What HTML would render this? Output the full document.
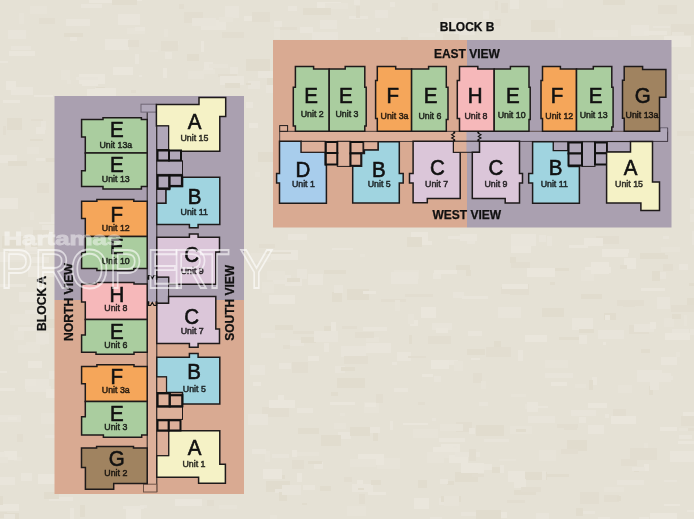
<!DOCTYPE html>
<html><head><meta charset="utf-8"><title>Floor plan</title>
<style>html,body{margin:0;padding:0;background:#e5e1d5;}body{width:694px;height:519px;overflow:hidden;font-family:"Liberation Sans",sans-serif;}svg{display:block;will-change:transform;filter:blur(0.3px);}</style>
</head><body>
<svg width="694" height="519" viewBox="0 0 694 519" shape-rendering="geometricPrecision"><rect x="0.0" y="0.0" width="694.0" height="519.0" fill="#e5e1d5" stroke="none" stroke-width="1.0" />
<g opacity="0.6"><rect x="218" y="74" width="19" height="3" fill="#e1dbce"/><rect x="51" y="214" width="9" height="8" fill="#ebe7de"/><rect x="657" y="297" width="13" height="12" fill="#ebe7de"/><rect x="285" y="278" width="17" height="8" fill="#ece8e0"/><rect x="376" y="28" width="4" height="4" fill="#ece8e0"/><rect x="364" y="402" width="15" height="11" fill="#e9e5db"/><rect x="394" y="270" width="25" height="9" fill="#e9e5db"/><rect x="419" y="33" width="16" height="4" fill="#e9e5db"/><rect x="18" y="345" width="22" height="8" fill="#e9e5db"/><rect x="340" y="413" width="5" height="3" fill="#e9e5db"/><rect x="324" y="343" width="5" height="9" fill="#ece8e0"/><rect x="397" y="352" width="14" height="9" fill="#ece8e0"/><rect x="270" y="475" width="15" height="4" fill="#dfd9cb"/><rect x="377" y="458" width="23" height="11" fill="#e9e5db"/><rect x="487" y="512" width="20" height="6" fill="#eeeae2"/><rect x="96" y="87" width="9" height="4" fill="#dfd9cb"/><rect x="188" y="71" width="16" height="8" fill="#e9e5db"/><rect x="661" y="357" width="16" height="8" fill="#ece8e0"/><rect x="511" y="234" width="25" height="12" fill="#ece8e0"/><rect x="437" y="28" width="5" height="4" fill="#eeeae2"/><rect x="368" y="492" width="18" height="3" fill="#eeeae2"/><rect x="246" y="59" width="24" height="12" fill="#dfd9cb"/><rect x="511" y="246" width="20" height="7" fill="#eeeae2"/><rect x="659" y="272" width="7" height="7" fill="#ebe7de"/><rect x="585" y="267" width="26" height="6" fill="#eeeae2"/><rect x="365" y="403" width="11" height="4" fill="#eeeae2"/><rect x="557" y="424" width="21" height="4" fill="#e1dbce"/><rect x="337" y="378" width="28" height="10" fill="#dfd9cb"/><rect x="650" y="513" width="27" height="6" fill="#eeeae2"/><rect x="684" y="315" width="3" height="11" fill="#e9e5db"/><rect x="455" y="472" width="23" height="10" fill="#dfd9cb"/><rect x="656" y="373" width="15" height="9" fill="#ebe7de"/><rect x="79" y="74" width="26" height="10" fill="#eeeae2"/><rect x="421" y="307" width="15" height="11" fill="#eeeae2"/><rect x="0" y="504" width="19" height="7" fill="#eeeae2"/><rect x="295" y="452" width="24" height="4" fill="#e9e5db"/><rect x="373" y="432" width="5" height="9" fill="#dfd9cb"/><rect x="456" y="422" width="16" height="10" fill="#e1dbce"/><rect x="82" y="75" width="16" height="11" fill="#eeeae2"/><rect x="418" y="402" width="7" height="3" fill="#e1dbce"/><rect x="501" y="287" width="11" height="7" fill="#e1dbce"/><rect x="330" y="402" width="25" height="3" fill="#eeeae2"/><rect x="347" y="289" width="22" height="11" fill="#dfd9cb"/><rect x="219" y="505" width="18" height="4" fill="#e9e5db"/><rect x="308" y="274" width="15" height="11" fill="#ece8e0"/><rect x="358" y="454" width="26" height="11" fill="#eeeae2"/><rect x="41" y="121" width="5" height="9" fill="#ebe7de"/><rect x="494" y="341" width="7" height="11" fill="#dfd9cb"/><rect x="270" y="250" width="28" height="10" fill="#eeeae2"/><rect x="487" y="516" width="13" height="6" fill="#e9e5db"/><rect x="4" y="285" width="14" height="2" fill="#e9e5db"/><rect x="567" y="440" width="20" height="11" fill="#dfd9cb"/><rect x="392" y="362" width="5" height="3" fill="#ece8e0"/><rect x="179" y="4" width="5" height="5" fill="#e1dbce"/><rect x="593" y="30" width="25" height="7" fill="#e9e5db"/><rect x="690" y="214" width="26" height="8" fill="#ebe7de"/><rect x="67" y="80" width="4" height="4" fill="#e9e5db"/><rect x="433" y="273" width="8" height="6" fill="#ece8e0"/><rect x="3" y="126" width="3" height="9" fill="#e1dbce"/><rect x="679" y="264" width="9" height="6" fill="#ece8e0"/><rect x="338" y="432" width="13" height="7" fill="#ece8e0"/><rect x="687" y="510" width="24" height="2" fill="#ece8e0"/><rect x="105" y="39" width="24" height="11" fill="#ece8e0"/><rect x="674" y="309" width="20" height="2" fill="#eeeae2"/><rect x="175" y="499" width="27" height="7" fill="#eeeae2"/><rect x="14" y="457" width="8" height="4" fill="#e9e5db"/><rect x="259" y="244" width="16" height="4" fill="#e1dbce"/><rect x="49" y="497" width="24" height="4" fill="#ece8e0"/><rect x="542" y="308" width="22" height="9" fill="#dfd9cb"/><rect x="443" y="18" width="24" height="11" fill="#ece8e0"/><rect x="292" y="362" width="16" height="11" fill="#e1dbce"/><rect x="390" y="421" width="3" height="9" fill="#ece8e0"/><rect x="471" y="358" width="9" height="2" fill="#eeeae2"/><rect x="439" y="498" width="12" height="7" fill="#ebe7de"/><rect x="432" y="323" width="20" height="7" fill="#ebe7de"/><rect x="312" y="32" width="26" height="11" fill="#ebe7de"/><rect x="454" y="30" width="21" height="5" fill="#ebe7de"/><rect x="448" y="236" width="24" height="3" fill="#ece8e0"/><rect x="192" y="19" width="19" height="4" fill="#e1dbce"/><rect x="390" y="2" width="5" height="5" fill="#ece8e0"/><rect x="335" y="366" width="10" height="7" fill="#ebe7de"/><rect x="689" y="283" width="11" height="3" fill="#dfd9cb"/><rect x="2" y="236" width="23" height="12" fill="#dfd9cb"/><rect x="690" y="198" width="26" height="11" fill="#ebe7de"/><rect x="359" y="494" width="6" height="10" fill="#e1dbce"/><rect x="187" y="54" width="12" height="7" fill="#dfd9cb"/><rect x="267" y="78" width="27" height="9" fill="#dfd9cb"/><rect x="203" y="69" width="12" height="5" fill="#e9e5db"/><rect x="-9" y="388" width="24" height="3" fill="#eeeae2"/><rect x="492" y="467" width="10" height="6" fill="#dfd9cb"/><rect x="265" y="451" width="5" height="11" fill="#e9e5db"/><rect x="26" y="342" width="19" height="3" fill="#e9e5db"/><rect x="534" y="406" width="14" height="2" fill="#ece8e0"/><rect x="272" y="454" width="17" height="4" fill="#ebe7de"/><rect x="25" y="379" width="14" height="10" fill="#ece8e0"/><rect x="602" y="249" width="26" height="8" fill="#eeeae2"/><rect x="677" y="131" width="19" height="5" fill="#e1dbce"/><rect x="443" y="34" width="16" height="10" fill="#e1dbce"/><rect x="692" y="231" width="6" height="4" fill="#ebe7de"/><rect x="4" y="451" width="13" height="9" fill="#eeeae2"/><rect x="255" y="172" width="5" height="5" fill="#e9e5db"/><rect x="433" y="447" width="8" height="5" fill="#eeeae2"/><rect x="261" y="333" width="14" height="5" fill="#ebe7de"/><rect x="528" y="416" width="27" height="7" fill="#ebe7de"/><rect x="266" y="481" width="24" height="11" fill="#dfd9cb"/><rect x="165" y="52" width="7" height="7" fill="#ece8e0"/><rect x="484" y="439" width="25" height="3" fill="#ebe7de"/><rect x="-9" y="61" width="17" height="2" fill="#ece8e0"/><rect x="204" y="62" width="9" height="8" fill="#ece8e0"/><rect x="547" y="-4" width="16" height="12" fill="#e9e5db"/><rect x="665" y="333" width="25" height="7" fill="#eeeae2"/><rect x="375" y="10" width="13" height="8" fill="#ebe7de"/><rect x="5" y="256" width="20" height="6" fill="#e9e5db"/><rect x="251" y="253" width="20" height="9" fill="#e9e5db"/><rect x="551" y="382" width="16" height="4" fill="#eeeae2"/><rect x="660" y="255" width="8" height="4" fill="#dfd9cb"/><rect x="631" y="25" width="18" height="11" fill="#ebe7de"/><rect x="140" y="505" width="7" height="3" fill="#ebe7de"/><rect x="70" y="37" width="7" height="4" fill="#ece8e0"/><rect x="649" y="386" width="4" height="9" fill="#dfd9cb"/><rect x="581" y="511" width="14" height="3" fill="#ebe7de"/><rect x="25" y="243" width="12" height="11" fill="#eeeae2"/><rect x="324" y="326" width="9" height="8" fill="#dfd9cb"/><rect x="19" y="13" width="5" height="11" fill="#e9e5db"/><rect x="127" y="28" width="18" height="6" fill="#e9e5db"/><rect x="664" y="318" width="10" height="9" fill="#e9e5db"/><rect x="498" y="307" width="23" height="11" fill="#ebe7de"/><rect x="7" y="118" width="15" height="12" fill="#dfd9cb"/><rect x="546" y="474" width="23" height="3" fill="#dfd9cb"/><rect x="510" y="426" width="22" height="8" fill="#e9e5db"/><rect x="596" y="236" width="23" height="8" fill="#e1dbce"/><rect x="164" y="29" width="4" height="8" fill="#e9e5db"/><rect x="64" y="33" width="19" height="4" fill="#dfd9cb"/><rect x="341" y="367" width="14" height="4" fill="#dfd9cb"/><rect x="314" y="462" width="9" height="7" fill="#ece8e0"/><rect x="525" y="404" width="10" height="5" fill="#e9e5db"/><rect x="253" y="382" width="8" height="4" fill="#eeeae2"/><rect x="36" y="127" width="9" height="7" fill="#ece8e0"/><rect x="559" y="337" width="28" height="3" fill="#dfd9cb"/><rect x="25" y="310" width="24" height="4" fill="#ebe7de"/><rect x="252" y="449" width="14" height="5" fill="#ece8e0"/><rect x="410" y="320" width="8" height="6" fill="#eeeae2"/><rect x="21" y="519" width="4" height="9" fill="#eeeae2"/><rect x="564" y="424" width="13" height="6" fill="#e1dbce"/><rect x="550" y="282" width="5" height="3" fill="#dfd9cb"/><rect x="366" y="337" width="13" height="5" fill="#e9e5db"/><rect x="26" y="386" width="25" height="6" fill="#ebe7de"/><rect x="598" y="517" width="12" height="4" fill="#ece8e0"/><rect x="275" y="489" width="14" height="4" fill="#ebe7de"/><rect x="612" y="237" width="7" height="2" fill="#e1dbce"/><rect x="269" y="295" width="26" height="9" fill="#eeeae2"/><rect x="357" y="480" width="6" height="7" fill="#eeeae2"/><rect x="21" y="473" width="11" height="8" fill="#ece8e0"/><rect x="263" y="469" width="19" height="10" fill="#eeeae2"/><rect x="441" y="444" width="19" height="8" fill="#eeeae2"/><rect x="500" y="465" width="4" height="8" fill="#ece8e0"/><rect x="17" y="434" width="6" height="8" fill="#e1dbce"/><rect x="588" y="403" width="19" height="5" fill="#eeeae2"/><rect x="290" y="340" width="14" height="6" fill="#ebe7de"/><rect x="-8" y="512" width="15" height="6" fill="#e1dbce"/><rect x="539" y="235" width="7" height="7" fill="#ebe7de"/><rect x="37" y="183" width="12" height="10" fill="#e1dbce"/><rect x="349" y="16" width="19" height="3" fill="#ece8e0"/><rect x="46" y="389" width="25" height="9" fill="#eeeae2"/><rect x="8" y="30" width="18" height="9" fill="#ebe7de"/><rect x="126" y="509" width="15" height="12" fill="#eeeae2"/><rect x="473" y="373" width="9" height="10" fill="#e1dbce"/><rect x="344" y="477" width="8" height="5" fill="#e1dbce"/><rect x="531" y="20" width="24" height="12" fill="#dfd9cb"/><rect x="381" y="299" width="25" height="3" fill="#e1dbce"/><rect x="687" y="298" width="12" height="10" fill="#dfd9cb"/><rect x="670" y="451" width="26" height="11" fill="#ece8e0"/><rect x="-9" y="13" width="7" height="8" fill="#dfd9cb"/><rect x="24" y="251" width="18" height="2" fill="#ebe7de"/><rect x="-8" y="181" width="6" height="6" fill="#eeeae2"/><rect x="-0" y="415" width="21" height="7" fill="#ebe7de"/><rect x="439" y="452" width="23" height="6" fill="#e9e5db"/><rect x="671" y="24" width="24" height="11" fill="#e1dbce"/><rect x="650" y="379" width="9" height="11" fill="#ebe7de"/><rect x="33" y="8" width="8" height="4" fill="#ebe7de"/><rect x="-1" y="284" width="27" height="3" fill="#eeeae2"/><rect x="355" y="332" width="19" height="6" fill="#e1dbce"/><rect x="201" y="20" width="25" height="10" fill="#ece8e0"/><rect x="297" y="473" width="5" height="9" fill="#eeeae2"/><rect x="149" y="50" width="9" height="2" fill="#e9e5db"/><rect x="617" y="480" width="27" height="5" fill="#ebe7de"/><rect x="297" y="408" width="16" height="5" fill="#ece8e0"/><rect x="644" y="464" width="5" height="7" fill="#eeeae2"/><rect x="514" y="490" width="22" height="5" fill="#dfd9cb"/><rect x="629" y="325" width="20" height="9" fill="#e1dbce"/><rect x="321" y="435" width="20" height="11" fill="#dfd9cb"/><rect x="613" y="409" width="13" height="8" fill="#e1dbce"/><rect x="9" y="51" width="26" height="5" fill="#eeeae2"/><rect x="483" y="11" width="6" height="8" fill="#ebe7de"/><rect x="481" y="381" width="5" height="8" fill="#e9e5db"/><rect x="366" y="343" width="25" height="10" fill="#ece8e0"/><rect x="135" y="54" width="4" height="10" fill="#ece8e0"/><rect x="52" y="389" width="19" height="7" fill="#eeeae2"/><rect x="288" y="6" width="9" height="5" fill="#ece8e0"/><rect x="525" y="472" width="22" height="8" fill="#dfd9cb"/><rect x="589" y="319" width="4" height="6" fill="#dfd9cb"/><rect x="320" y="20" width="17" height="9" fill="#ebe7de"/><rect x="297" y="269" width="10" height="10" fill="#ebe7de"/><rect x="-7" y="252" width="15" height="10" fill="#eeeae2"/><rect x="671" y="305" width="27" height="7" fill="#e1dbce"/><rect x="545" y="360" width="23" height="8" fill="#e9e5db"/><rect x="618" y="385" width="14" height="8" fill="#e9e5db"/><rect x="624" y="258" width="12" height="11" fill="#eeeae2"/><rect x="408" y="356" width="18" height="2" fill="#e1dbce"/><rect x="220" y="76" width="24" height="9" fill="#ece8e0"/><rect x="442" y="360" width="16" height="5" fill="#ece8e0"/><rect x="572" y="318" width="21" height="12" fill="#ece8e0"/><rect x="123" y="506" width="21" height="3" fill="#ece8e0"/><rect x="683" y="412" width="21" height="6" fill="#eeeae2"/><rect x="317" y="2" width="24" height="6" fill="#eeeae2"/><rect x="342" y="326" width="15" height="3" fill="#e1dbce"/><rect x="510" y="-2" width="9" height="11" fill="#ece8e0"/><rect x="394" y="388" width="14" height="4" fill="#ece8e0"/><rect x="449" y="455" width="19" height="8" fill="#eeeae2"/><rect x="468" y="331" width="14" height="5" fill="#ece8e0"/><rect x="483" y="464" width="9" height="6" fill="#ece8e0"/><rect x="288" y="234" width="19" height="6" fill="#ece8e0"/><rect x="455" y="452" width="25" height="5" fill="#ebe7de"/><rect x="264" y="252" width="27" height="2" fill="#e1dbce"/><rect x="325" y="3" width="23" height="6" fill="#e9e5db"/><rect x="279" y="492" width="8" height="9" fill="#dfd9cb"/><rect x="352" y="484" width="21" height="8" fill="#ece8e0"/><rect x="30" y="139" width="13" height="2" fill="#dfd9cb"/><rect x="634" y="324" width="20" height="8" fill="#ebe7de"/><rect x="652" y="271" width="8" height="10" fill="#dfd9cb"/><rect x="644" y="31" width="23" height="4" fill="#ece8e0"/><rect x="440" y="424" width="23" height="7" fill="#e9e5db"/><rect x="525" y="335" width="22" height="7" fill="#eeeae2"/><rect x="121" y="-4" width="21" height="5" fill="#eeeae2"/><rect x="331" y="322" width="5" height="11" fill="#eeeae2"/><rect x="644" y="443" width="4" height="10" fill="#e9e5db"/><rect x="575" y="327" width="3" height="2" fill="#ebe7de"/><rect x="61" y="70" width="9" height="10" fill="#e9e5db"/><rect x="273" y="275" width="18" height="9" fill="#ebe7de"/><rect x="461" y="463" width="23" height="10" fill="#eeeae2"/><rect x="45" y="435" width="20" height="3" fill="#ebe7de"/><rect x="31" y="240" width="7" height="7" fill="#dfd9cb"/><rect x="694" y="349" width="8" height="6" fill="#ece8e0"/><rect x="10" y="314" width="20" height="11" fill="#e9e5db"/><rect x="331" y="392" width="7" height="4" fill="#dfd9cb"/><rect x="324" y="270" width="22" height="4" fill="#dfd9cb"/><rect x="27" y="147" width="12" height="7" fill="#e9e5db"/><rect x="347" y="506" width="19" height="10" fill="#e9e5db"/><rect x="80" y="505" width="5" height="12" fill="#dfd9cb"/><rect x="499" y="459" width="17" height="2" fill="#e9e5db"/><rect x="66" y="19" width="24" height="7" fill="#ece8e0"/><rect x="32" y="257" width="17" height="6" fill="#eeeae2"/><rect x="431" y="360" width="18" height="9" fill="#eeeae2"/><rect x="18" y="327" width="19" height="4" fill="#ece8e0"/><rect x="118" y="14" width="22" height="11" fill="#ece8e0"/><rect x="-1" y="452" width="6" height="5" fill="#ece8e0"/><rect x="293" y="331" width="26" height="3" fill="#e1dbce"/><rect x="358" y="427" width="22" height="6" fill="#ece8e0"/><rect x="-0" y="198" width="18" height="11" fill="#eeeae2"/><rect x="139" y="75" width="3" height="2" fill="#ece8e0"/><rect x="461" y="512" width="24" height="4" fill="#ebe7de"/><rect x="81" y="4" width="21" height="4" fill="#ece8e0"/><rect x="514" y="479" width="12" height="9" fill="#ece8e0"/><rect x="592" y="377" width="5" height="8" fill="#ece8e0"/><rect x="341" y="346" width="25" height="11" fill="#ebe7de"/><rect x="495" y="1" width="3" height="9" fill="#e1dbce"/><rect x="46" y="158" width="21" height="4" fill="#dfd9cb"/><rect x="658" y="376" width="15" height="4" fill="#ebe7de"/><rect x="262" y="407" width="27" height="10" fill="#e1dbce"/><rect x="428" y="336" width="23" height="8" fill="#e1dbce"/><rect x="501" y="3" width="7" height="10" fill="#e1dbce"/><rect x="292" y="460" width="12" height="9" fill="#e1dbce"/><rect x="308" y="356" width="11" height="5" fill="#eeeae2"/><rect x="403" y="423" width="25" height="2" fill="#eeeae2"/><rect x="561" y="449" width="17" height="5" fill="#e1dbce"/><rect x="472" y="474" width="12" height="3" fill="#e1dbce"/><rect x="545" y="373" width="28" height="5" fill="#ebe7de"/><rect x="467" y="239" width="8" height="5" fill="#ebe7de"/><rect x="547" y="236" width="5" height="10" fill="#ebe7de"/><rect x="621" y="459" width="16" height="7" fill="#e1dbce"/><rect x="640" y="253" width="25" height="6" fill="#dfd9cb"/><rect x="356" y="6" width="4" height="12" fill="#e1dbce"/><rect x="332" y="292" width="10" height="10" fill="#dfd9cb"/><rect x="408" y="314" width="6" height="10" fill="#e9e5db"/><rect x="131" y="90" width="5" height="3" fill="#e1dbce"/><rect x="250" y="365" width="15" height="10" fill="#ebe7de"/><rect x="598" y="330" width="26" height="9" fill="#ebe7de"/><rect x="441" y="496" width="20" height="6" fill="#dfd9cb"/><rect x="653" y="26" width="17" height="2" fill="#ebe7de"/><rect x="511" y="394" width="15" height="3" fill="#e9e5db"/><rect x="521" y="487" width="20" height="5" fill="#e1dbce"/><rect x="301" y="337" width="15" height="6" fill="#dfd9cb"/><rect x="-1" y="371" width="8" height="2" fill="#eeeae2"/><rect x="45" y="319" width="12" height="9" fill="#dfd9cb"/><rect x="664" y="480" width="13" height="2" fill="#ebe7de"/><rect x="569" y="245" width="19" height="3" fill="#eeeae2"/><rect x="308" y="461" width="14" height="3" fill="#dfd9cb"/><rect x="225" y="83" width="15" height="5" fill="#dfd9cb"/><rect x="70" y="508" width="4" height="11" fill="#ece8e0"/><rect x="641" y="288" width="24" height="3" fill="#eeeae2"/><rect x="576" y="508" width="7" height="8" fill="#dfd9cb"/><rect x="89" y="-4" width="24" height="7" fill="#eeeae2"/><rect x="244" y="16" width="13" height="5" fill="#eeeae2"/><rect x="87" y="89" width="22" height="9" fill="#eeeae2"/><rect x="413" y="429" width="25" height="9" fill="#e9e5db"/><rect x="113" y="67" width="20" height="8" fill="#eeeae2"/><rect x="36" y="379" width="13" height="9" fill="#ebe7de"/><rect x="278" y="395" width="6" height="9" fill="#eeeae2"/><rect x="248" y="81" width="12" height="8" fill="#ebe7de"/><rect x="672" y="32" width="12" height="4" fill="#e9e5db"/><rect x="539" y="450" width="17" height="11" fill="#e9e5db"/><rect x="604" y="495" width="15" height="7" fill="#e1dbce"/><rect x="161" y="41" width="18" height="4" fill="#e9e5db"/><rect x="11" y="46" width="20" height="4" fill="#ebe7de"/><rect x="579" y="329" width="15" height="4" fill="#dfd9cb"/><rect x="495" y="19" width="6" height="7" fill="#e1dbce"/><rect x="658" y="5" width="19" height="9" fill="#e1dbce"/><rect x="581" y="270" width="13" height="11" fill="#e9e5db"/><rect x="681" y="416" width="26" height="10" fill="#e1dbce"/><rect x="28" y="266" width="27" height="11" fill="#eeeae2"/><rect x="603" y="342" width="3" height="3" fill="#eeeae2"/><rect x="39" y="222" width="16" height="2" fill="#eeeae2"/><rect x="692" y="233" width="4" height="12" fill="#ebe7de"/><rect x="14" y="331" width="10" height="9" fill="#e9e5db"/><rect x="432" y="418" width="4" height="3" fill="#ebe7de"/><rect x="663" y="264" width="10" height="7" fill="#e1dbce"/><rect x="350" y="459" width="26" height="8" fill="#e9e5db"/><rect x="161" y="41" width="17" height="10" fill="#e1dbce"/><rect x="262" y="282" width="12" height="11" fill="#e9e5db"/><rect x="421" y="241" width="11" height="4" fill="#eeeae2"/><rect x="30" y="6" width="17" height="8" fill="#e9e5db"/><rect x="300" y="27" width="13" height="6" fill="#ece8e0"/><rect x="527" y="268" width="28" height="9" fill="#eeeae2"/><rect x="283" y="345" width="7" height="4" fill="#e1dbce"/><rect x="588" y="425" width="16" height="9" fill="#ece8e0"/><rect x="639" y="517" width="10" height="8" fill="#ece8e0"/><rect x="603" y="-3" width="22" height="8" fill="#dfd9cb"/><rect x="270" y="515" width="7" height="10" fill="#e9e5db"/><rect x="604" y="313" width="12" height="7" fill="#dfd9cb"/><rect x="409" y="335" width="3" height="9" fill="#dfd9cb"/><rect x="258" y="152" width="16" height="10" fill="#dfd9cb"/><rect x="395" y="300" width="5" height="11" fill="#e9e5db"/><rect x="672" y="314" width="9" height="5" fill="#dfd9cb"/><rect x="617" y="496" width="4" height="5" fill="#dfd9cb"/><rect x="298" y="428" width="21" height="6" fill="#dfd9cb"/><rect x="466" y="270" width="5" height="6" fill="#dfd9cb"/><rect x="447" y="481" width="7" height="4" fill="#dfd9cb"/><rect x="430" y="517" width="12" height="7" fill="#ebe7de"/><rect x="679" y="428" width="16" height="3" fill="#e9e5db"/><rect x="476" y="425" width="28" height="11" fill="#dfd9cb"/><rect x="434" y="270" width="23" height="4" fill="#eeeae2"/><rect x="280" y="27" width="17" height="3" fill="#e1dbce"/><rect x="690" y="329" width="4" height="6" fill="#ebe7de"/><rect x="-7" y="155" width="24" height="8" fill="#ece8e0"/><rect x="11" y="87" width="22" height="8" fill="#ece8e0"/><rect x="620" y="265" width="7" height="4" fill="#e1dbce"/><rect x="76" y="77" width="22" height="3" fill="#ebe7de"/><rect x="44" y="492" width="15" height="7" fill="#dfd9cb"/><rect x="558" y="28" width="3" height="10" fill="#e9e5db"/><rect x="184" y="12" width="19" height="11" fill="#e1dbce"/><rect x="34" y="95" width="19" height="2" fill="#eeeae2"/><rect x="617" y="300" width="27" height="6" fill="#e1dbce"/><rect x="112" y="-2" width="25" height="7" fill="#dfd9cb"/><rect x="414" y="498" width="15" height="11" fill="#eeeae2"/><rect x="467" y="349" width="18" height="6" fill="#dfd9cb"/><rect x="606" y="249" width="23" height="4" fill="#eeeae2"/><rect x="-5" y="457" width="13" height="6" fill="#e9e5db"/><rect x="274" y="29" width="6" height="10" fill="#e9e5db"/><rect x="8" y="417" width="9" height="3" fill="#eeeae2"/><rect x="579" y="417" width="7" height="6" fill="#ece8e0"/><rect x="275" y="325" width="18" height="5" fill="#dfd9cb"/><rect x="623" y="303" width="12" height="4" fill="#e1dbce"/><rect x="518" y="350" width="5" height="11" fill="#ece8e0"/><rect x="453" y="292" width="11" height="6" fill="#ebe7de"/><rect x="479" y="402" width="9" height="4" fill="#ebe7de"/><rect x="38" y="474" width="23" height="10" fill="#eeeae2"/><rect x="36" y="158" width="9" height="3" fill="#ece8e0"/><rect x="584" y="238" width="19" height="8" fill="#eeeae2"/><rect x="248" y="414" width="20" height="11" fill="#ebe7de"/><rect x="454" y="361" width="9" height="10" fill="#e9e5db"/><rect x="510" y="284" width="19" height="11" fill="#e1dbce"/><rect x="581" y="294" width="21" height="5" fill="#dfd9cb"/><rect x="462" y="296" width="26" height="3" fill="#ece8e0"/><rect x="192" y="18" width="24" height="8" fill="#ebe7de"/><rect x="676" y="352" width="4" height="5" fill="#e9e5db"/><rect x="516" y="429" width="10" height="3" fill="#dfd9cb"/><rect x="344" y="356" width="24" height="8" fill="#e1dbce"/><rect x="28" y="361" width="14" height="7" fill="#eeeae2"/><rect x="660" y="427" width="17" height="4" fill="#eeeae2"/><rect x="672" y="329" width="17" height="4" fill="#ebe7de"/><rect x="332" y="248" width="21" height="2" fill="#ece8e0"/><rect x="303" y="485" width="12" height="5" fill="#ece8e0"/><rect x="376" y="394" width="7" height="9" fill="#e1dbce"/><rect x="679" y="435" width="13" height="4" fill="#ece8e0"/><rect x="135" y="27" width="10" height="4" fill="#ece8e0"/><rect x="207" y="500" width="7" height="6" fill="#e1dbce"/><rect x="246" y="83" width="5" height="2" fill="#dfd9cb"/><rect x="49" y="371" width="28" height="8" fill="#ebe7de"/><rect x="444" y="496" width="15" height="10" fill="#e9e5db"/><rect x="-4" y="477" width="19" height="8" fill="#ece8e0"/><rect x="163" y="68" width="4" height="10" fill="#eeeae2"/><rect x="439" y="438" width="26" height="4" fill="#ece8e0"/><rect x="575" y="384" width="11" height="4" fill="#e9e5db"/><rect x="19" y="292" width="19" height="10" fill="#ece8e0"/><rect x="274" y="21" width="8" height="6" fill="#ece8e0"/><rect x="302" y="503" width="5" height="2" fill="#dfd9cb"/><rect x="252" y="12" width="18" height="10" fill="#e1dbce"/><rect x="456" y="265" width="14" height="5" fill="#dfd9cb"/><rect x="-4" y="496" width="7" height="9" fill="#dfd9cb"/><rect x="128" y="40" width="11" height="7" fill="#e1dbce"/><rect x="630" y="448" width="27" height="12" fill="#e1dbce"/><rect x="47" y="419" width="21" height="5" fill="#ece8e0"/><rect x="661" y="247" width="19" height="5" fill="#e9e5db"/><rect x="363" y="327" width="24" height="4" fill="#ece8e0"/><rect x="363" y="291" width="13" height="3" fill="#eeeae2"/><rect x="579" y="335" width="8" height="9" fill="#ece8e0"/><rect x="334" y="285" width="9" height="8" fill="#ebe7de"/><rect x="508" y="471" width="17" height="11" fill="#ece8e0"/><rect x="42" y="225" width="25" height="8" fill="#ece8e0"/><rect x="580" y="492" width="19" height="12" fill="#e1dbce"/><rect x="266" y="85" width="27" height="8" fill="#ebe7de"/><rect x="31" y="119" width="12" height="2" fill="#e1dbce"/><rect x="663" y="236" width="6" height="3" fill="#ebe7de"/><rect x="427" y="452" width="17" height="11" fill="#e9e5db"/><rect x="469" y="428" width="6" height="6" fill="#ece8e0"/><rect x="334" y="423" width="12" height="6" fill="#e9e5db"/><rect x="641" y="349" width="9" height="4" fill="#dfd9cb"/><rect x="5" y="513" width="14" height="10" fill="#dfd9cb"/><rect x="258" y="71" width="25" height="7" fill="#ece8e0"/><rect x="303" y="8" width="28" height="7" fill="#dfd9cb"/><rect x="605" y="414" width="4" height="4" fill="#ece8e0"/><rect x="605" y="315" width="5" height="5" fill="#eeeae2"/><rect x="209" y="64" width="19" height="4" fill="#e9e5db"/><rect x="320" y="486" width="11" height="5" fill="#dfd9cb"/><rect x="225" y="6" width="14" height="12" fill="#ebe7de"/><rect x="434" y="376" width="7" height="6" fill="#ebe7de"/><rect x="391" y="272" width="27" height="12" fill="#ebe7de"/><rect x="634" y="468" width="5" height="4" fill="#dfd9cb"/><rect x="436" y="328" width="12" height="5" fill="#eeeae2"/><rect x="604" y="487" width="20" height="5" fill="#e9e5db"/><rect x="511" y="262" width="19" height="6" fill="#e1dbce"/><rect x="486" y="347" width="25" height="10" fill="#e1dbce"/><rect x="249" y="123" width="9" height="5" fill="#eeeae2"/><rect x="269" y="400" width="26" height="8" fill="#eeeae2"/><rect x="502" y="284" width="26" height="5" fill="#eeeae2"/><rect x="401" y="37" width="7" height="8" fill="#dfd9cb"/><rect x="292" y="450" width="5" height="7" fill="#eeeae2"/><rect x="6" y="81" width="10" height="9" fill="#eeeae2"/><rect x="24" y="230" width="25" height="5" fill="#e1dbce"/><rect x="507" y="500" width="18" height="3" fill="#e1dbce"/><rect x="230" y="67" width="8" height="7" fill="#ebe7de"/><rect x="440" y="479" width="8" height="5" fill="#ece8e0"/><rect x="9" y="250" width="18" height="10" fill="#eeeae2"/><rect x="30" y="212" width="4" height="8" fill="#e9e5db"/><rect x="536" y="513" width="13" height="11" fill="#ebe7de"/><rect x="8" y="161" width="19" height="5" fill="#dfd9cb"/><rect x="422" y="374" width="11" height="3" fill="#eeeae2"/><rect x="469" y="449" width="7" height="12" fill="#e1dbce"/><rect x="527" y="402" width="11" height="10" fill="#ece8e0"/><rect x="358" y="488" width="6" height="2" fill="#dfd9cb"/><rect x="678" y="74" width="19" height="6" fill="#ebe7de"/><rect x="650" y="322" width="6" height="7" fill="#eeeae2"/><rect x="95" y="88" width="21" height="11" fill="#eeeae2"/><rect x="632" y="467" width="13" height="4" fill="#ebe7de"/><rect x="36" y="333" width="13" height="11" fill="#ebe7de"/><rect x="453" y="446" width="4" height="2" fill="#ece8e0"/><rect x="690" y="109" width="17" height="4" fill="#e9e5db"/><rect x="201" y="41" width="3" height="11" fill="#eeeae2"/><rect x="411" y="232" width="17" height="11" fill="#eeeae2"/><rect x="589" y="380" width="4" height="10" fill="#dfd9cb"/><rect x="690" y="151" width="4" height="3" fill="#ebe7de"/><rect x="519" y="238" width="13" height="6" fill="#ece8e0"/><rect x="637" y="370" width="25" height="12" fill="#ebe7de"/><rect x="432" y="3" width="6" height="8" fill="#e1dbce"/><rect x="4" y="514" width="11" height="11" fill="#ebe7de"/><rect x="664" y="504" width="16" height="2" fill="#eeeae2"/><rect x="510" y="257" width="6" height="6" fill="#dfd9cb"/><rect x="664" y="36" width="27" height="11" fill="#eeeae2"/><rect x="39" y="18" width="16" height="6" fill="#e1dbce"/><rect x="219" y="17" width="14" height="5" fill="#e9e5db"/><rect x="476" y="510" width="25" height="9" fill="#dfd9cb"/><rect x="287" y="278" width="13" height="4" fill="#dfd9cb"/><rect x="611" y="416" width="25" height="8" fill="#eeeae2"/><rect x="418" y="480" width="9" height="8" fill="#dfd9cb"/><rect x="688" y="428" width="20" height="3" fill="#e1dbce"/><rect x="542" y="471" width="4" height="9" fill="#e9e5db"/><rect x="460" y="234" width="17" height="7" fill="#ece8e0"/><rect x="591" y="262" width="18" height="12" fill="#eeeae2"/><rect x="571" y="410" width="25" height="6" fill="#ebe7de"/><rect x="267" y="271" width="18" height="9" fill="#e9e5db"/><rect x="41" y="413" width="20" height="11" fill="#e9e5db"/><rect x="405" y="294" width="28" height="3" fill="#e1dbce"/><rect x="246" y="102" width="7" height="6" fill="#ece8e0"/><rect x="314" y="331" width="24" height="11" fill="#ebe7de"/><rect x="279" y="363" width="12" height="6" fill="#ece8e0"/><rect x="555" y="268" width="14" height="3" fill="#dfd9cb"/><rect x="354" y="-2" width="6" height="7" fill="#ece8e0"/><rect x="3" y="100" width="17" height="3" fill="#eeeae2"/><rect x="360" y="254" width="5" height="3" fill="#e9e5db"/><rect x="21" y="227" width="12" height="9" fill="#e9e5db"/><rect x="678" y="441" width="18" height="3" fill="#eeeae2"/><rect x="222" y="32" width="22" height="6" fill="#e1dbce"/><rect x="282" y="485" width="19" height="10" fill="#ebe7de"/><rect x="407" y="237" width="15" height="10" fill="#dfd9cb"/><rect x="690" y="87" width="5" height="6" fill="#eeeae2"/><rect x="350" y="427" width="20" height="9" fill="#dfd9cb"/><rect x="371" y="480" width="10" height="5" fill="#dfd9cb"/></g>
<rect x="54.5" y="96.0" width="189.5" height="204.0" fill="#aaa0b0" stroke="none" stroke-width="1.0" />
<rect x="54.5" y="300.0" width="189.5" height="194.0" fill="#d9aa92" stroke="none" stroke-width="1.0" />
<rect x="273.0" y="40.0" width="194.0" height="187.5" fill="#d9aa92" stroke="none" stroke-width="1.0" />
<rect x="467.0" y="40.0" width="204.5" height="187.5" fill="#aaa0b0" stroke="none" stroke-width="1.0" />
<rect x="147.2" y="104.5" width="9.6" height="198.0" fill="#b0a7b9" stroke="none" stroke-width="1.0" />
<rect x="147.2" y="302.5" width="9.6" height="189.5" fill="#ddb09a" stroke="none" stroke-width="1.0" />
<line x1="147.2" y1="110" x2="147.2" y2="486" stroke="#1e1a1a" stroke-width="1"/>
<line x1="156.8" y1="104" x2="156.8" y2="492" stroke="#1e1a1a" stroke-width="1"/>
<rect x="141.0" y="104.2" width="15.4" height="7.9" fill="#b0a7b9" stroke="#6f6674" stroke-width="1" />
<rect x="143.5" y="484.2" width="13.3" height="7.8" fill="#ddb09a" stroke="#6f5548" stroke-width="1" />
<polygon points="81.6,119.5 103.0,119.5 103.0,117.8 141.4,117.8 141.4,119.5 147.2,119.5 147.2,153.0 85.3,153.0 85.3,137.0 81.6,137.0" fill="#aacd9f" stroke="#1e1a1a" stroke-width="1.5" stroke-linejoin="miter" />
<polygon points="85.3,153.0 147.2,153.0 147.2,186.5 141.4,186.5 141.4,188.9 103.0,188.9 103.0,186.5 81.6,186.5 81.6,170.7 85.3,170.7" fill="#aacd9f" stroke="#1e1a1a" stroke-width="1.5" stroke-linejoin="miter" />
<polygon points="81.6,201.3 96.9,201.3 96.9,199.5 133.8,199.5 133.8,201.3 147.2,201.3 147.2,236.4 85.3,236.4 85.3,218.6 81.6,218.6" fill="#f5a65a" stroke="#1e1a1a" stroke-width="1.5" stroke-linejoin="miter" />
<polygon points="85.3,236.4 147.2,236.4 147.2,268.5 133.8,268.5 133.8,270.6 96.9,270.6 96.9,268.5 81.6,268.5 81.6,252.4 85.3,252.4" fill="#aacd9f" stroke="#1e1a1a" stroke-width="1.5" stroke-linejoin="miter" />
<polygon points="81.6,284.0 96.0,284.0 96.0,282.5 134.0,282.5 134.0,284.0 147.2,284.0 147.2,319.4 85.3,319.4 85.3,302.0 81.6,302.0" fill="#f6b8ba" stroke="#1e1a1a" stroke-width="1.5" stroke-linejoin="miter" />
<polygon points="85.3,319.4 147.2,319.4 147.2,352.3 134.0,352.3 134.0,354.3 96.0,354.3 96.0,352.3 81.6,352.3 81.6,335.0 85.3,335.0" fill="#aacd9f" stroke="#1e1a1a" stroke-width="1.5" stroke-linejoin="miter" />
<polygon points="81.6,366.5 96.9,366.5 96.9,364.7 134.0,364.7 134.0,366.5 147.2,366.5 147.2,401.6 85.3,401.6 85.3,383.8 81.6,383.8" fill="#f5a65a" stroke="#1e1a1a" stroke-width="1.5" stroke-linejoin="miter" />
<polygon points="85.3,401.6 147.2,401.6 147.2,435.0 141.7,435.0 141.7,437.2 103.4,437.2 103.4,435.0 81.6,435.0 81.6,416.7 85.3,416.7" fill="#aacd9f" stroke="#1e1a1a" stroke-width="1.5" stroke-linejoin="miter" />
<polygon points="81.5,448.0 96.6,448.0 96.6,446.5 133.5,446.5 133.5,448.0 147.2,448.0 147.2,483.5 113.7,483.5 113.7,489.2 85.4,489.2 85.4,467.4 81.5,467.4" fill="#a08360" stroke="#1e1a1a" stroke-width="1.5" stroke-linejoin="miter" />
<polygon points="156.4,104.5 199.0,104.5 199.0,97.5 225.7,97.5 225.7,116.5 219.8,116.5 219.8,151.2 168.5,151.2 168.5,126.0 156.4,126.0" fill="#f5f2c6" stroke="#1e1a1a" stroke-width="1.5" stroke-linejoin="miter" />
<rect x="156.8" y="126.0" width="11.7" height="23.5" fill="#b0a7b9" stroke="#1e1a1a" stroke-width="1" />
<rect x="156.8" y="160.8" width="25.7" height="13.6" fill="#b0a7b9" stroke="#1e1a1a" stroke-width="1" />
<rect x="156.8" y="189.4" width="9.2" height="13.9" fill="#b0a7b9" stroke="#1e1a1a" stroke-width="1" />
<polygon points="182.5,177.3 219.8,177.3 219.8,224.5 198.1,224.5 198.1,227.8 189.4,227.8 189.4,224.5 156.8,224.5 156.8,203.3 166.0,203.3 166.0,189.4 169.5,189.4 169.5,186.5 182.5,186.5" fill="#a0d4e0" stroke="#1e1a1a" stroke-width="1.5" stroke-linejoin="miter" />
<polygon points="156.8,237.3 189.4,237.3 189.4,233.9 198.1,233.9 198.1,237.3 219.5,237.3 219.5,252.0 215.8,252.0 215.8,284.2 168.6,284.2 168.6,277.3 156.8,277.3" fill="#dbc6d9" stroke="#1e1a1a" stroke-width="1.5" stroke-linejoin="miter" />
<rect x="156.8" y="277.3" width="11.8" height="26.0" fill="#b0a7b9" stroke="none" stroke-width="1.0" />
<rect x="156.8" y="277.3" width="11.8" height="26.0" fill="none" stroke="#1e1a1a" stroke-width="1" />
<polygon points="168.6,296.6 215.8,296.6 215.8,329.0 219.5,329.0 219.5,343.4 198.1,343.4 198.1,347.3 189.4,347.3 189.4,343.4 156.8,343.4 156.8,303.3 168.6,303.3" fill="#dbc6d9" stroke="#1e1a1a" stroke-width="1.5" stroke-linejoin="miter" />
<polygon points="156.8,357.3 189.4,357.3 189.4,353.5 198.1,353.5 198.1,357.3 219.8,357.3 219.8,404.0 182.5,404.0 182.5,392.5 166.4,392.5 166.4,377.0 156.8,377.0" fill="#a0d4e0" stroke="#1e1a1a" stroke-width="1.5" stroke-linejoin="miter" />
<rect x="156.8" y="377.0" width="9.6" height="15.5" fill="#ddb09a" stroke="#1e1a1a" stroke-width="1" />
<rect x="156.8" y="407.0" width="25.7" height="12.4" fill="#ddb09a" stroke="#1e1a1a" stroke-width="1" />
<polygon points="168.6,430.8 219.8,430.8 219.8,464.2 225.4,464.2 225.4,483.3 198.6,483.3 198.6,477.3 156.8,477.3 156.8,455.6 168.6,455.6" fill="#f5f2c6" stroke="#1e1a1a" stroke-width="1.5" stroke-linejoin="miter" />
<rect x="156.8" y="431.0" width="11.8" height="24.6" fill="#ddb09a" stroke="#1e1a1a" stroke-width="1" />
<rect x="157.5" y="150.5" width="11.5" height="10.0" fill="#b0a7b9" stroke="#111" stroke-width="2" />
<rect x="169.0" y="150.5" width="12.0" height="10.0" fill="#b0a7b9" stroke="#111" stroke-width="2" />
<rect x="157.5" y="175.5" width="12.0" height="13.0" fill="#b0a7b9" stroke="#111" stroke-width="2.2" />
<rect x="169.5" y="175.5" width="12.5" height="10.5" fill="#b0a7b9" stroke="#111" stroke-width="2.2" />
<rect x="157.5" y="393.3" width="12.3" height="13.0" fill="#ddb09a" stroke="#111" stroke-width="2.2" />
<rect x="169.8" y="395.2" width="12.5" height="11.1" fill="#ddb09a" stroke="#111" stroke-width="2.2" />
<rect x="157.5" y="420.3" width="11.3" height="10.2" fill="#ddb09a" stroke="#111" stroke-width="2" />
<rect x="168.8" y="420.3" width="11.7" height="10.2" fill="#ddb09a" stroke="#111" stroke-width="2" />
<rect x="660.0" y="128.0" width="7.6" height="6.0" fill="#b0a7b9" stroke="#4a4250" stroke-width="0.9" />
<rect x="279.7" y="131.3" width="387.9" height="10.1" fill="#ddb09a" stroke="#3a3030" stroke-width="0.9" />
<rect x="466.5" y="131.8" width="200.6" height="9.2" fill="#b0a7b9" stroke="none" stroke-width="1.0" />
<line x1="466.5" y1="141.4" x2="667.6" y2="141.4" stroke="#4a4250" stroke-width="0.9"/>
<line x1="667.6" y1="128" x2="667.6" y2="141.4" stroke="#4a4250" stroke-width="0.9"/>
<rect x="660.4" y="128.4" width="6.8" height="3.6" fill="#b0a7b9" stroke="none" stroke-width="1.0" />
<rect x="279.7" y="125.6" width="7.9" height="5.7" fill="#ddb09a" stroke="#1e1a1a" stroke-width="1" />
<polygon points="295.4,66.5 313.6,66.5 313.6,69.0 329.2,69.0 329.2,131.2 295.4,131.2 295.4,126.0 293.3,126.0 293.3,87.3 295.4,87.3" fill="#aacd9f" stroke="#1e1a1a" stroke-width="1.5" stroke-linejoin="miter" />
<polygon points="329.2,69.0 345.2,69.0 345.2,66.5 364.8,66.5 364.8,87.3 366.2,87.3 366.2,126.0 364.8,126.0 364.8,131.2 329.2,131.2" fill="#aacd9f" stroke="#1e1a1a" stroke-width="1.5" stroke-linejoin="miter" />
<polygon points="377.3,66.5 395.7,66.5 395.7,69.0 411.6,69.0 411.6,131.2 377.3,131.2 377.3,118.5 375.6,118.5 375.6,80.4 377.3,80.4" fill="#f5a65a" stroke="#1e1a1a" stroke-width="1.5" stroke-linejoin="miter" />
<polygon points="411.6,69.0 428.6,69.0 428.6,66.5 446.3,66.5 446.3,87.3 448.0,87.3 448.0,119.4 446.3,119.4 446.3,131.2 411.6,131.2" fill="#aacd9f" stroke="#1e1a1a" stroke-width="1.5" stroke-linejoin="miter" />
<polygon points="459.5,66.5 477.8,66.5 477.8,69.0 494.2,69.0 494.2,131.2 459.5,131.2 459.5,118.5 457.3,118.5 457.3,80.4 459.5,80.4" fill="#f6b8ba" stroke="#1e1a1a" stroke-width="1.5" stroke-linejoin="miter" />
<polygon points="494.2,69.0 510.4,69.0 510.4,66.5 529.0,66.5 529.0,87.3 530.2,87.3 530.2,119.4 529.0,119.4 529.0,131.2 494.2,131.2" fill="#aacd9f" stroke="#1e1a1a" stroke-width="1.5" stroke-linejoin="miter" />
<polygon points="542.5,66.5 560.4,66.5 560.4,69.0 576.5,69.0 576.5,131.2 542.5,131.2 542.5,118.5 541.0,118.5 541.0,80.4 542.5,80.4" fill="#f5a65a" stroke="#1e1a1a" stroke-width="1.5" stroke-linejoin="miter" />
<polygon points="576.5,69.0 593.3,69.0 593.3,66.5 611.8,66.5 611.8,87.3 613.1,87.3 613.1,126.9 611.8,126.9 611.8,131.2 576.5,131.2" fill="#aacd9f" stroke="#1e1a1a" stroke-width="1.5" stroke-linejoin="miter" />
<polygon points="624.2,66.4 642.6,66.4 642.6,69.4 665.9,69.4 665.9,97.3 659.5,97.3 659.5,131.2 624.2,131.2 624.2,118.2 622.5,118.2 622.5,80.3 624.2,80.3" fill="#a08360" stroke="#1e1a1a" stroke-width="1.5" stroke-linejoin="miter" />
<polygon points="279.5,141.3 301.2,141.3 301.2,152.2 325.2,152.2 325.2,164.7 326.4,164.7 326.4,203.2 279.5,203.2 279.5,183.0 276.6,183.0 276.6,173.4 279.5,173.4" fill="#a8cdec" stroke="#1e1a1a" stroke-width="1.5" stroke-linejoin="miter" />
<rect x="301.2" y="141.3" width="24.0" height="10.9" fill="#ddb09a" stroke="#1e1a1a" stroke-width="1" />
<rect x="337.3" y="141.3" width="12.9" height="25.1" fill="#ddb09a" stroke="#1e1a1a" stroke-width="1" />
<rect x="325.8" y="142.0" width="11.5" height="11.0" fill="#ddb09a" stroke="#111" stroke-width="2" />
<rect x="325.8" y="153.0" width="11.5" height="11.5" fill="#ddb09a" stroke="#111" stroke-width="2" />
<rect x="350.5" y="142.0" width="13.0" height="11.4" fill="#ddb09a" stroke="#111" stroke-width="2" />
<rect x="350.5" y="153.4" width="10.8" height="12.4" fill="#ddb09a" stroke="#111" stroke-width="2" />
<rect x="363.7" y="141.7" width="14.5" height="8.3" fill="#ddb09a" stroke="#1e1a1a" stroke-width="1" />
<polygon points="378.2,141.7 399.3,141.7 399.3,173.4 403.2,173.4 403.2,183.0 399.3,183.0 399.3,203.1 352.7,203.1 352.7,166.2 361.6,166.2 361.6,153.4 364.4,153.4 364.4,150.0 378.2,150.0" fill="#a0d4e0" stroke="#1e1a1a" stroke-width="1.5" stroke-linejoin="miter" />
<polygon points="413.1,141.2 453.5,141.2 453.5,152.3 460.2,152.3 460.2,198.6 427.3,198.6 427.3,202.8 413.1,202.8 413.1,183.0 409.5,183.0 409.5,173.4 413.1,173.4" fill="#dbc6d9" stroke="#1e1a1a" stroke-width="1.5" stroke-linejoin="miter" />
<rect x="453.5" y="141.2" width="13.0" height="11.1" fill="#ddb09a" stroke="none" stroke-width="1.0" />
<rect x="466.5" y="141.2" width="13.0" height="11.1" fill="#b0a7b9" stroke="none" stroke-width="1.0" />
<rect x="453.5" y="141.2" width="26.0" height="11.1" fill="none" stroke="#1e1a1a" stroke-width="1" />
<polygon points="479.5,141.2 519.5,141.2 519.5,173.4 522.5,173.4 522.5,183.0 519.5,183.0 519.5,202.9 505.2,202.9 505.2,198.6 472.3,198.6 472.3,152.3 479.5,152.3" fill="#dbc6d9" stroke="#1e1a1a" stroke-width="1.5" stroke-linejoin="miter" />
<polygon points="532.6,141.8 553.4,141.8 553.4,150.5 569.0,150.5 569.0,166.4 579.4,166.4 579.4,203.2 532.6,203.2 532.6,183.0 528.7,183.0 528.7,173.4 532.6,173.4" fill="#a0d4e0" stroke="#1e1a1a" stroke-width="1.5" stroke-linejoin="miter" />
<rect x="553.4" y="141.8" width="14.4" height="8.7" fill="#b0a7b9" stroke="#1e1a1a" stroke-width="1" />
<rect x="582.0" y="141.8" width="13.0" height="24.6" fill="#b0a7b9" stroke="#1e1a1a" stroke-width="1" />
<rect x="568.5" y="142.5" width="13.5" height="11.0" fill="#b0a7b9" stroke="#111" stroke-width="2" />
<rect x="568.5" y="153.5" width="13.5" height="12.0" fill="#b0a7b9" stroke="#111" stroke-width="2" />
<rect x="595.0" y="142.5" width="12.0" height="10.8" fill="#b0a7b9" stroke="#111" stroke-width="2" />
<rect x="595.0" y="153.3" width="12.0" height="11.2" fill="#b0a7b9" stroke="#111" stroke-width="2" />
<rect x="607.4" y="141.6" width="23.1" height="10.4" fill="#b0a7b9" stroke="#1e1a1a" stroke-width="1" />
<polygon points="630.5,141.6 652.5,141.6 652.5,182.1 659.5,182.1 659.5,210.4 640.9,210.4 640.9,202.9 606.6,202.9 606.6,152.0 630.5,152.0" fill="#f5f2c6" stroke="#1e1a1a" stroke-width="1.5" stroke-linejoin="miter" />
<path d="M454.3,131.5 V133.2 L451.6,134.8 L454.3,136.4 L451.6,138 L454.3,139.6 V141.2" fill="none" stroke="#111" stroke-width="1.1" stroke-linejoin="miter"/>
<rect x="453.4" y="131.5" width="1.8" height="1.7" fill="#111" stroke="none" stroke-width="1.0" />
<rect x="453.4" y="139.5" width="1.8" height="1.8" fill="#111" stroke="none" stroke-width="1.0" />
<path d="M478.3,131.5 V133.2 L481,134.8 L478.3,136.4 L481,138 L478.3,139.6 V141.2" fill="none" stroke="#111" stroke-width="1.1" stroke-linejoin="miter"/>
<rect x="477.4" y="131.5" width="1.8" height="1.7" fill="#111" stroke="none" stroke-width="1.0" />
<rect x="477.4" y="139.5" width="1.8" height="1.8" fill="#111" stroke="none" stroke-width="1.0" />
<path d="M148.3,279.6 V275.6 L150.6,275.6 L152.3,278.6 L154,275.6 L156.6,275.6 V279.6" fill="none" stroke="#111" stroke-width="1.1" stroke-linejoin="miter"/>
<rect x="147.5" y="276.6" width="1.8" height="3.0" fill="#111" stroke="none" stroke-width="1.0" />
<rect x="155.5" y="276.6" width="1.8" height="3.0" fill="#111" stroke="none" stroke-width="1.0" />
<path d="M148.3,301.4 V305.4 L150.6,305.4 L152.3,302.4 L154,305.4 L156.6,305.4 V301.4" fill="none" stroke="#111" stroke-width="1.1" stroke-linejoin="miter"/>
<rect x="147.5" y="301.4" width="1.8" height="3.0" fill="#111" stroke="none" stroke-width="1.0" />
<rect x="155.5" y="301.4" width="1.8" height="3.0" fill="#111" stroke="none" stroke-width="1.0" />
<text transform="translate(116.8 137.4) scale(0.95 1)" x="0" y="0" font-family="Liberation Sans, sans-serif" font-size="21.6" text-anchor="middle" fill="#111" stroke="#111" stroke-width="0.6">E</text>
<text x="115.8" y="147.9" font-family="Liberation Sans, sans-serif" font-size="8.8" text-anchor="middle" fill="#000" stroke="#000" stroke-width="0.5" opacity="0.82">Unit 13a</text>
<text transform="translate(116.8 172.0) scale(0.95 1)" x="0" y="0" font-family="Liberation Sans, sans-serif" font-size="21.6" text-anchor="middle" fill="#111" stroke="#111" stroke-width="0.6">E</text>
<text x="115.8" y="181.8" font-family="Liberation Sans, sans-serif" font-size="8.8" text-anchor="middle" fill="#000" stroke="#000" stroke-width="0.5" opacity="0.82">Unit 13</text>
<text transform="translate(116.8 221.5) scale(0.95 1)" x="0" y="0" font-family="Liberation Sans, sans-serif" font-size="21.6" text-anchor="middle" fill="#111" stroke="#111" stroke-width="0.6">F</text>
<text x="115.8" y="230.9" font-family="Liberation Sans, sans-serif" font-size="8.8" text-anchor="middle" fill="#000" stroke="#000" stroke-width="0.5" opacity="0.82">Unit 12</text>
<text transform="translate(116.8 254.4) scale(0.95 1)" x="0" y="0" font-family="Liberation Sans, sans-serif" font-size="21.6" text-anchor="middle" fill="#111" stroke="#111" stroke-width="0.6">E</text>
<text x="115.8" y="263.5" font-family="Liberation Sans, sans-serif" font-size="8.8" text-anchor="middle" fill="#000" stroke="#000" stroke-width="0.5" opacity="0.82">Unit 10</text>
<text transform="translate(116.8 301.6) scale(0.95 1)" x="0" y="0" font-family="Liberation Sans, sans-serif" font-size="21.6" text-anchor="middle" fill="#111" stroke="#111" stroke-width="0.6">H</text>
<text x="115.8" y="311.0" font-family="Liberation Sans, sans-serif" font-size="8.8" text-anchor="middle" fill="#000" stroke="#000" stroke-width="0.5" opacity="0.82">Unit 8</text>
<text transform="translate(116.8 338.8) scale(0.95 1)" x="0" y="0" font-family="Liberation Sans, sans-serif" font-size="21.6" text-anchor="middle" fill="#111" stroke="#111" stroke-width="0.6">E</text>
<text x="115.8" y="348.2" font-family="Liberation Sans, sans-serif" font-size="8.8" text-anchor="middle" fill="#000" stroke="#000" stroke-width="0.5" opacity="0.82">Unit 6</text>
<text transform="translate(116.8 384.1) scale(0.95 1)" x="0" y="0" font-family="Liberation Sans, sans-serif" font-size="21.6" text-anchor="middle" fill="#111" stroke="#111" stroke-width="0.6">F</text>
<text x="115.8" y="393.2" font-family="Liberation Sans, sans-serif" font-size="8.8" text-anchor="middle" fill="#000" stroke="#000" stroke-width="0.5" opacity="0.82">Unit 3a</text>
<text transform="translate(116.8 420.5) scale(0.95 1)" x="0" y="0" font-family="Liberation Sans, sans-serif" font-size="21.6" text-anchor="middle" fill="#111" stroke="#111" stroke-width="0.6">E</text>
<text x="115.8" y="429.6" font-family="Liberation Sans, sans-serif" font-size="8.8" text-anchor="middle" fill="#000" stroke="#000" stroke-width="0.5" opacity="0.82">Unit 3</text>
<text transform="translate(116.8 465.8) scale(0.95 1)" x="0" y="0" font-family="Liberation Sans, sans-serif" font-size="21.6" text-anchor="middle" fill="#111" stroke="#111" stroke-width="0.6">G</text>
<text x="115.8" y="475.6" font-family="Liberation Sans, sans-serif" font-size="8.8" text-anchor="middle" fill="#000" stroke="#000" stroke-width="0.5" opacity="0.82">Unit 2</text>
<text transform="translate(194.5 128.7) scale(0.95 1)" x="0" y="0" font-family="Liberation Sans, sans-serif" font-size="21.6" text-anchor="middle" fill="#111" stroke="#111" stroke-width="0.6">A</text>
<text x="194.4" y="140.9" font-family="Liberation Sans, sans-serif" font-size="8.8" text-anchor="middle" fill="#000" stroke="#000" stroke-width="0.5" opacity="0.82">Unit 15</text>
<text transform="translate(194.5 203.6) scale(0.95 1)" x="0" y="0" font-family="Liberation Sans, sans-serif" font-size="21.6" text-anchor="middle" fill="#111" stroke="#111" stroke-width="0.6">B</text>
<text x="194.2" y="215.2" font-family="Liberation Sans, sans-serif" font-size="8.8" text-anchor="middle" fill="#000" stroke="#000" stroke-width="0.5" opacity="0.82">Unit 11</text>
<text transform="translate(191.6 261.5) scale(0.95 1)" x="0" y="0" font-family="Liberation Sans, sans-serif" font-size="21.6" text-anchor="middle" fill="#111" stroke="#111" stroke-width="0.6">C</text>
<text x="192.2" y="273.5" font-family="Liberation Sans, sans-serif" font-size="8.8" text-anchor="middle" fill="#000" stroke="#000" stroke-width="0.5" opacity="0.82">Unit 9</text>
<text transform="translate(191.6 324.0) scale(0.95 1)" x="0" y="0" font-family="Liberation Sans, sans-serif" font-size="21.6" text-anchor="middle" fill="#111" stroke="#111" stroke-width="0.6">C</text>
<text x="192.2" y="334.1" font-family="Liberation Sans, sans-serif" font-size="8.8" text-anchor="middle" fill="#000" stroke="#000" stroke-width="0.5" opacity="0.82">Unit 7</text>
<text transform="translate(194.2 379.2) scale(0.95 1)" x="0" y="0" font-family="Liberation Sans, sans-serif" font-size="21.6" text-anchor="middle" fill="#111" stroke="#111" stroke-width="0.6">B</text>
<text x="194.3" y="391.8" font-family="Liberation Sans, sans-serif" font-size="8.8" text-anchor="middle" fill="#000" stroke="#000" stroke-width="0.5" opacity="0.82">Unit 5</text>
<text transform="translate(194.6 455.0) scale(0.95 1)" x="0" y="0" font-family="Liberation Sans, sans-serif" font-size="21.6" text-anchor="middle" fill="#111" stroke="#111" stroke-width="0.6">A</text>
<text x="194.0" y="466.9" font-family="Liberation Sans, sans-serif" font-size="8.8" text-anchor="middle" fill="#000" stroke="#000" stroke-width="0.5" opacity="0.82">Unit 1</text>
<text transform="translate(311.2 103.2) scale(0.95 1)" x="0" y="0" font-family="Liberation Sans, sans-serif" font-size="21.6" text-anchor="middle" fill="#111" stroke="#111" stroke-width="0.6">E</text>
<text x="312.2" y="117.4" font-family="Liberation Sans, sans-serif" font-size="8.8" text-anchor="middle" fill="#000" stroke="#000" stroke-width="0.5" opacity="0.82">Unit 2</text>
<text transform="translate(345.9 103.2) scale(0.95 1)" x="0" y="0" font-family="Liberation Sans, sans-serif" font-size="21.6" text-anchor="middle" fill="#111" stroke="#111" stroke-width="0.6">E</text>
<text x="347.0" y="117.2" font-family="Liberation Sans, sans-serif" font-size="8.8" text-anchor="middle" fill="#000" stroke="#000" stroke-width="0.5" opacity="0.82">Unit 3</text>
<text transform="translate(392.8 103.2) scale(0.95 1)" x="0" y="0" font-family="Liberation Sans, sans-serif" font-size="21.6" text-anchor="middle" fill="#111" stroke="#111" stroke-width="0.6">F</text>
<text x="394.5" y="118.8" font-family="Liberation Sans, sans-serif" font-size="8.8" text-anchor="middle" fill="#000" stroke="#000" stroke-width="0.5" opacity="0.82">Unit 3a</text>
<text transform="translate(430.7 103.2) scale(0.95 1)" x="0" y="0" font-family="Liberation Sans, sans-serif" font-size="21.6" text-anchor="middle" fill="#111" stroke="#111" stroke-width="0.6">E</text>
<text x="429.9" y="118.8" font-family="Liberation Sans, sans-serif" font-size="8.8" text-anchor="middle" fill="#000" stroke="#000" stroke-width="0.5" opacity="0.82">Unit 6</text>
<text transform="translate(475.2 103.2) scale(0.95 1)" x="0" y="0" font-family="Liberation Sans, sans-serif" font-size="21.6" text-anchor="middle" fill="#111" stroke="#111" stroke-width="0.6">H</text>
<text x="476.0" y="119.3" font-family="Liberation Sans, sans-serif" font-size="8.8" text-anchor="middle" fill="#000" stroke="#000" stroke-width="0.5" opacity="0.82">Unit 8</text>
<text transform="translate(512.8 103.2) scale(0.95 1)" x="0" y="0" font-family="Liberation Sans, sans-serif" font-size="21.6" text-anchor="middle" fill="#111" stroke="#111" stroke-width="0.6">E</text>
<text x="511.6" y="117.9" font-family="Liberation Sans, sans-serif" font-size="8.8" text-anchor="middle" fill="#000" stroke="#000" stroke-width="0.5" opacity="0.82">Unit 10</text>
<text transform="translate(556.9 103.2) scale(0.95 1)" x="0" y="0" font-family="Liberation Sans, sans-serif" font-size="21.6" text-anchor="middle" fill="#111" stroke="#111" stroke-width="0.6">F</text>
<text x="559.3" y="119.3" font-family="Liberation Sans, sans-serif" font-size="8.8" text-anchor="middle" fill="#000" stroke="#000" stroke-width="0.5" opacity="0.82">Unit 12</text>
<text transform="translate(595.6 103.2) scale(0.95 1)" x="0" y="0" font-family="Liberation Sans, sans-serif" font-size="21.6" text-anchor="middle" fill="#111" stroke="#111" stroke-width="0.6">E</text>
<text x="593.6" y="117.9" font-family="Liberation Sans, sans-serif" font-size="8.8" text-anchor="middle" fill="#000" stroke="#000" stroke-width="0.5" opacity="0.82">Unit 13</text>
<text transform="translate(642.6 103.2) scale(0.95 1)" x="0" y="0" font-family="Liberation Sans, sans-serif" font-size="21.6" text-anchor="middle" fill="#111" stroke="#111" stroke-width="0.6">G</text>
<text x="642.0" y="117.9" font-family="Liberation Sans, sans-serif" font-size="8.8" text-anchor="middle" fill="#000" stroke="#000" stroke-width="0.5" opacity="0.82">Unit 13a</text>
<text transform="translate(303.0 176.9) scale(0.95 1)" x="0" y="0" font-family="Liberation Sans, sans-serif" font-size="21.6" text-anchor="middle" fill="#111" stroke="#111" stroke-width="0.6">D</text>
<text x="303.4" y="186.8" font-family="Liberation Sans, sans-serif" font-size="8.8" text-anchor="middle" fill="#000" stroke="#000" stroke-width="0.5" opacity="0.82">Unit 1</text>
<text transform="translate(378.8 176.6) scale(0.95 1)" x="0" y="0" font-family="Liberation Sans, sans-serif" font-size="21.6" text-anchor="middle" fill="#111" stroke="#111" stroke-width="0.6">B</text>
<text x="379.2" y="186.8" font-family="Liberation Sans, sans-serif" font-size="8.8" text-anchor="middle" fill="#000" stroke="#000" stroke-width="0.5" opacity="0.82">Unit 5</text>
<text transform="translate(437.3 175.0) scale(0.95 1)" x="0" y="0" font-family="Liberation Sans, sans-serif" font-size="21.6" text-anchor="middle" fill="#111" stroke="#111" stroke-width="0.6">C</text>
<text x="436.6" y="186.8" font-family="Liberation Sans, sans-serif" font-size="8.8" text-anchor="middle" fill="#000" stroke="#000" stroke-width="0.5" opacity="0.82">Unit 7</text>
<text transform="translate(496.0 175.0) scale(0.95 1)" x="0" y="0" font-family="Liberation Sans, sans-serif" font-size="21.6" text-anchor="middle" fill="#111" stroke="#111" stroke-width="0.6">C</text>
<text x="496.0" y="186.8" font-family="Liberation Sans, sans-serif" font-size="8.8" text-anchor="middle" fill="#000" stroke="#000" stroke-width="0.5" opacity="0.82">Unit 9</text>
<text transform="translate(555.7 174.8) scale(0.95 1)" x="0" y="0" font-family="Liberation Sans, sans-serif" font-size="21.6" text-anchor="middle" fill="#111" stroke="#111" stroke-width="0.6">B</text>
<text x="554.3" y="186.8" font-family="Liberation Sans, sans-serif" font-size="8.8" text-anchor="middle" fill="#000" stroke="#000" stroke-width="0.5" opacity="0.82">Unit 11</text>
<text transform="translate(630.5 175.3) scale(0.95 1)" x="0" y="0" font-family="Liberation Sans, sans-serif" font-size="21.6" text-anchor="middle" fill="#111" stroke="#111" stroke-width="0.6">A</text>
<text x="629.0" y="186.8" font-family="Liberation Sans, sans-serif" font-size="8.8" text-anchor="middle" fill="#000" stroke="#000" stroke-width="0.5" opacity="0.82">Unit 15</text>
<text x="439.8" y="31.0" font-family="Liberation Sans, sans-serif" font-size="12" font-weight="bold" fill="#111" stroke="#111" stroke-width="0.25" text-anchor="start" >BLOCK B</text>
<text x="433.9" y="57.5" font-family="Liberation Sans, sans-serif" font-size="12" font-weight="bold" fill="#111" stroke="#111" stroke-width="0.25" text-anchor="start" >EAST VIEW</text>
<text x="432.4" y="218.9" font-family="Liberation Sans, sans-serif" font-size="12" font-weight="bold" fill="#111" stroke="#111" stroke-width="0.25" text-anchor="start" >WEST VIEW</text>
<text x="46.4" y="330.9" font-family="Liberation Sans, sans-serif" font-size="12.15" font-weight="bold" fill="#111" stroke="#111" stroke-width="0.25" text-anchor="start" transform="rotate(-90 46.4 330.9)">BLOCK A</text>
<text x="73.3" y="341.1" font-family="Liberation Sans, sans-serif" font-size="12.2" font-weight="bold" fill="#111" stroke="#111" stroke-width="0.25" text-anchor="start" transform="rotate(-90 73.3 341.1)">NORTH VIEW</text>
<text x="234.1" y="340.8" font-family="Liberation Sans, sans-serif" font-size="12" font-weight="bold" fill="#111" stroke="#111" stroke-width="0.25" text-anchor="start" transform="rotate(-90 234.1 340.8)">SOUTH VIEW</text>
<g opacity="0.45"><text x="3.4" y="245.1" font-family="Liberation Sans, sans-serif" font-size="19.2" font-weight="bold" fill="#ffffff" stroke="#ffffff" stroke-width="0.9" textLength="118" lengthAdjust="spacingAndGlyphs">Hartamas</text></g>
<text transform="translate(0 288.4) scale(0.9 1)" y="0" font-family="Liberation Sans, sans-serif" font-size="55" fill="none" stroke="#ffffff" stroke-opacity="0.6" stroke-width="1.8"><tspan x="0.38">P</tspan><tspan x="38.04">R</tspan><tspan x="77.95">O</tspan><tspan x="121.04">P</tspan><tspan x="162.82">E</tspan><tspan x="191.60">R</tspan><tspan x="221.54">T</tspan><tspan x="266.57">Y</tspan></text></svg>
</body></html>
